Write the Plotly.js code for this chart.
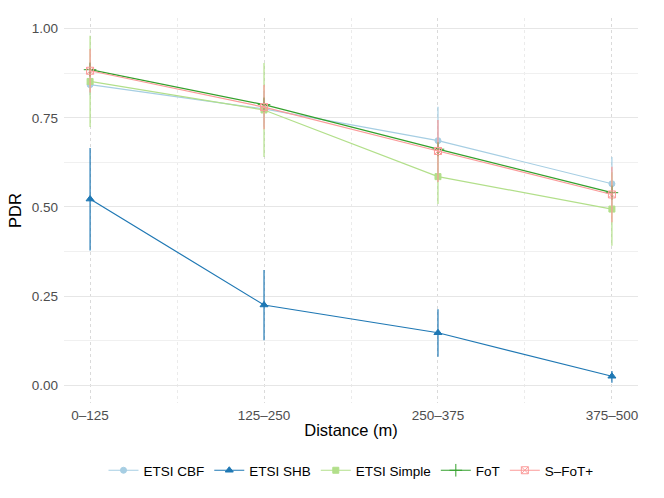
<!DOCTYPE html>
<html>
<head>
<meta charset="utf-8">
<script src="https://cdn.plot.ly/plotly-3.0.1.min.js"></script>
<style>
  html, body { margin: 0; padding: 0; background: #fff; }
  #chart { width: 664px; height: 498px; }
</style>
</head>
<body>
<div id="chart"></div>
<script>
// distance bins
const distances = ['0\u2013125', '125\u2013250', '250\u2013375', '375\u2013500'];

// PDR means per protocol
const cbf    = [0.843, 0.775, 0.686, 0.565];
const shb    = [0.522, 0.225, 0.147, 0.025];
const simple = [0.852, 0.772, 0.585, 0.494];
const fot    = [0.885, 0.787, 0.662, 0.540];
const sfot   = [0.882, 0.780, 0.657, 0.535];

// error bar half widths
const cbfErr    = [0.03, 0.05, 0.095, 0.075];
const shbErrUp  = [0.143, 0.098, 0.066, 0.015];
const shbErrDn  = [0.144, 0.099, 0.067, 0.018];
const simpleErr = [0.128, 0.132, 0.077, 0.103];
const fotErr    = [0.02, 0.02, 0.02, 0.02];
const sfotErr   = [0.061, 0.062, 0.087, 0.078];

const xs = distances.map((d, i) => i);

function series(name, y, up, dn, color, symbol, size) {
  return {
    x: xs, y: y, name: name,
    type: 'scatter', mode: 'lines+markers',
    line: {color: color, width: 1.2},
    marker: {color: color, symbol: symbol, size: size,
             line: {color: color, width: 1}},
    error_y: {type: 'data', symmetric: false, array: up, arrayminus: dn,
              color: color, thickness: 1.2, width: 0}
  };
}

const traces = [
  series('ETSI CBF', cbf, cbfErr, cbfErr, '#a6cee3', 'circle', 6),
  series('ETSI SHB', shb, shbErrUp, shbErrDn, '#1f78b4', 'triangle-up', 7),
  series('ETSI Simple', simple, simpleErr, simpleErr, '#b2df8a', 'square', 6),
  series('FoT', fot, fotErr, fotErr, '#33a02c', 'cross-thin', 9),
  series('S\u2013FoT+', sfot, sfotErr, sfotErr, '#fb9a99', 'square-x-open', 7)
];

const layout = {
  width: 664, height: 498,
  margin: {l: 64, r: 26, t: 18, b: 95},
  paper_bgcolor: '#fff', plot_bgcolor: '#fff',
  font: {family: 'Liberation Sans, Arial, sans-serif', color: '#000'},
  showlegend: true,
  legend: {orientation: 'h', x: 0.5, xanchor: 'center', y: -0.135, yanchor: 'top',
           font: {size: 13.5, color: '#000'}, itemwidth: 30},
  xaxis: {
    range: [-0.15, 3.15],
    tickvals: xs, ticktext: distances,
    showgrid: true, gridcolor: '#dadada', griddash: 'dot', gridwidth: 1,
    minor: {tick0: 0.5, dtick: 1, showgrid: true, gridcolor: '#ebebeb', gridwidth: 1},
    zeroline: false, showline: false, ticks: '',
    ticklabelstandoff: 2,
    tickfont: {size: 13.5, color: '#4d4d4d'},
    title: {text: 'Distance (m)', font: {size: 16.5, color: '#000'}, standoff: 2}
  },
  yaxis: {
    range: [-0.05, 1.03],
    tickvals: [0, 0.25, 0.5, 0.75, 1], ticktext: ['0.00', '0.25', '0.50', '0.75', '1.00'],
    showgrid: true, gridcolor: '#e6e6e6', gridwidth: 1,
    minor: {tick0: 0.125, dtick: 0.25, showgrid: true, gridcolor: '#f0f0f0', gridwidth: 1},
    zeroline: false, showline: false, ticks: '',
    ticklabelstandoff: 5,
    tickfont: {size: 13.5, color: '#4d4d4d'},
    title: {text: 'PDR', font: {size: 16.5, color: '#000'}, standoff: 5}
  }
};

Plotly.newPlot('chart', traces, layout, {displayModeBar: false, staticPlot: true});
</script>
</body>
</html>
